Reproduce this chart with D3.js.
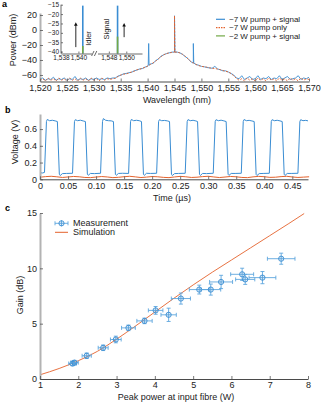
<!DOCTYPE html>
<html lang="en">
<head>
<meta charset="UTF-8">
<title>Parametric amplifier measurements</title>
<style>
  body { margin: 0; background: #fff; }
  svg { display: block; font-family: "Liberation Sans", Arial, sans-serif; }
  .tick text { font-size: 9px; fill: #222; }
  .inset .tick text { font-size: 6.5px; }
  .axis-title { font-size: 9px; fill: #222; }
  .legend text { font-size: 9px; fill: #222; }
  .legend.small text { font-size: 8px; }
  .panel-label { font-size: 9px; font-weight: bold; fill: #000; }
</style>
</head>
<body>
<script src="https://cdn.jsdelivr.net/npm/d3@7"></script>
<script>
// ---------- panel a: output spectra (dBm on a 0.5 nm grid from 1,520 nm) ----------
const wavelengths = d3.range(1520, 1570.01, 0.5);

const pumpSignalDbm = [
  -66, -64, -67, -65, -66, -63, -67, -65, -66, -64, -67, -65, -66, -62,
  -67, -65, -66, -64, -67, -65, -66, -64, -66, -65, -66, -64, -65, -64,
  -64, -61.5, -60.5, -58.5, -58, -57, -56.5, -54.5, -53.5, -52, -51.5, -49.5,
  -48.5, -45.5, -44.5, -41, -38.5, -35, -33, -31.5, -30.5, -29.5, -29.5, -29.5,
  -30.5, -32.5, -35.5, -38, -42, -44, -46, -47, -48.5, -49, -50, -50.5,
  -51, -48.5, -52, -53, -54.5, -54.5, -56, -58, -60, -64,
  -65, -61, -66, -64, -62, -66, -65, -61, -66, -64, -65, -62, -66, -64,
  -65, -61, -66, -64, -62, -66, -65, -64, -61, -66, -64, -65, -63
];

const pumpOnlyDbm = [
  -67, -65, -68, -64, -67, -65, -68, -64, -67, -65, -68, -64, -67, -65,
  -68, -64, -67, -65, -68, -64, -67, -65, -68, -64, -67, -65, -66, -65,
  -64.5, -62, -60, -59, -58.5, -57.5, -56, -55, -53, -52.5, -51, -50,
  -48, -46, -44, -41.5, -38.5, -35.5, -33, -31.5, -30.5, -30, -29.5, -29.5,
  -30.5, -32.5, -35, -38.5, -42, -44, -46, -47.5, -48.5, -49, -49.5, -50.5,
  -51, -51.5, -52, -53, -54, -55, -56, -58, -61, -64.5,
  -67, -65, -68, -64, -67, -65, -68, -64, -67, -65, -68, -64, -67, -65,
  -68, -64, -67, -65, -68, -64, -67, -65, -68, -64, -67, -65, -66
];

// narrow lines: idler, pump, signal
const pumpSignalPeaks = [
  { wl: 1540.2, base: -47, peak: -18 },
  { wl: 1545.0, base: -29.5, peak: 19 },
  { wl: 1548.5, base: -44, peak: -18 }
];
const pumpOnlyPeaks = [
  { wl: 1545.0, base: -29.5, peak: 19 }
];

// inset: idler and signal peak powers (dBm)
const insetIdlerWl = 1540.5, insetSignalWl = 1549.0;
const insetHighPump = { idler: -15.5, signal: -15.5 };   // ~7 W pump + signal
const insetLowPump = { idler: -37, signal: -32 };        // ~2 W pump + signal

const legendA = ['~7 W pump + signal', '~7 W pump only', '~2 W pump + signal'];

// ---------- panel b: detected voltage versus time ----------
const pulseTrace = [
  [0.000, 0.080], [0.004, 0.075], [0.008, 0.082], [0.0115, 0.69], [0.013, 0.715], [0.017, 0.700], [0.022, 0.705], [0.027, 0.698], [0.031, 0.690], [0.0345, 0.060], [0.036, 0.045], [0.040, 0.068], [0.047, 0.070],
  [0.058, 0.072], [0.0615, 0.69], [0.063, 0.712], [0.067, 0.700], [0.072, 0.706], [0.077, 0.697], [0.081, 0.690], [0.0845, 0.060], [0.086, 0.048], [0.090, 0.070], [0.097, 0.068],
  [0.108, 0.072], [0.1115, 0.69], [0.113, 0.725], [0.117, 0.705], [0.122, 0.700], [0.127, 0.698], [0.131, 0.690], [0.1345, 0.058], [0.136, 0.048], [0.140, 0.070], [0.147, 0.072],
  [0.158, 0.070], [0.1615, 0.69], [0.163, 0.715], [0.167, 0.700], [0.172, 0.705], [0.177, 0.700], [0.181, 0.690], [0.1845, 0.060], [0.186, 0.047], [0.190, 0.072], [0.197, 0.070],
  [0.208, 0.072], [0.2115, 0.69], [0.213, 0.712], [0.217, 0.700], [0.222, 0.703], [0.227, 0.698], [0.231, 0.690], [0.2345, 0.060], [0.236, 0.045], [0.240, 0.068], [0.247, 0.070],
  [0.259, 0.072], [0.2625, 0.69], [0.264, 0.713], [0.268, 0.700], [0.273, 0.705], [0.278, 0.697], [0.281, 0.690], [0.2845, 0.058], [0.286, 0.046], [0.290, 0.070], [0.297, 0.068],
  [0.309, 0.072], [0.3125, 0.69], [0.314, 0.712], [0.318, 0.700], [0.323, 0.706], [0.328, 0.698], [0.332, 0.690], [0.3355, 0.060], [0.337, 0.047], [0.341, 0.070], [0.348, 0.070],
  [0.359, 0.072], [0.3625, 0.69], [0.364, 0.714], [0.368, 0.700], [0.373, 0.704], [0.378, 0.697], [0.382, 0.690], [0.3855, 0.058], [0.387, 0.045], [0.391, 0.068], [0.398, 0.070],
  [0.409, 0.072], [0.4125, 0.69], [0.414, 0.712], [0.418, 0.700], [0.423, 0.705], [0.428, 0.698], [0.432, 0.690], [0.4355, 0.060], [0.437, 0.046], [0.441, 0.070], [0.448, 0.070],
  [0.460, 0.072], [0.4635, 0.69], [0.465, 0.712], [0.469, 0.700], [0.474, 0.704], [0.478, 0.698]
];

// reference trace sampled every 10 ns
const refTimes = d3.range(0, 0.4805, 0.01);
const refVolts = [
  0.025, 0.032, 0.036, 0.030, 0.022, 0.028, 0.034, 0.030, 0.022, 0.020,
  0.027, 0.033, 0.028, 0.020, 0.024, 0.031, 0.036, 0.029, 0.021, 0.026,
  0.033, 0.030, 0.023, 0.020, 0.028, 0.035, 0.030, 0.022, 0.025, 0.032,
  0.036, 0.028, 0.021, 0.027, 0.034, 0.030, 0.022, 0.020, 0.029, 0.035,
  0.031, 0.023, 0.025, 0.032, 0.036, 0.028, 0.022, 0.026, 0.030
];

const timeTicks = [0, 0.05, 0.10, 0.15, 0.20, 0.25, 0.30, 0.35, 0.40, 0.45];
const voltTicks = [0, 0.2, 0.4, 0.6];

// ---------- panel c: gain versus peak pump power ----------
const measPower = [1.85, 1.90, 2.22, 2.65, 2.98, 3.31, 3.73, 4.02, 4.36, 4.68, 5.16, 5.46, 5.73, 6.28, 6.36, 6.81, 7.30];
const measGain  = [1.40, 1.48, 2.10, 2.82, 3.57, 4.62, 5.25, 6.20, 5.80, 7.27, 8.08, 8.08, 8.77, 9.46, 9.00, 9.16, 10.87];
const powerErr  = [0.10, 0.10, 0.12, 0.13, 0.14, 0.18, 0.20, 0.19, 0.20, 0.25, 0.26, 0.26, 0.30, 0.30, 0.25, 0.35, 0.36];
const gainErr   = [0.20, 0.20, 0.25, 0.25, 0.30, 0.25, 0.25, 0.35, 0.60, 0.50, 0.40, 0.50, 0.60, 0.55, 0.45, 0.55, 0.50];

const simPower = [1, 1.5, 2, 2.5, 3, 3.5, 4, 4.5, 5, 5.5, 6, 6.5, 7, 7.5, 7.9];
const simGain  = [0.38, 0.95, 1.65, 2.5, 3.6, 4.8, 6.05, 7.3, 8.5, 9.65, 10.75, 11.85, 12.95, 14.05, 14.95];

const gainTicks = [0, 5, 10, 15];
const powerTicks = [1, 2, 3, 4, 5, 6, 7, 8];

// ---------- drawing ----------
const BLUE = '#3a8dd3', ORANGE = '#e4622c', GREEN = '#72a846', ERR = '#5ea6de';
const Y_AXIS = '#b3b3b3', X_AXIS = '#4a4a4a';

const svg = d3.select('body').append('svg')
  .attr('width', 326)
  .attr('height', 407);

function styleAxis(g, color, width) {
  g.select('.domain').attr('stroke', color).attr('stroke-width', width);
  g.selectAll('.tick line').attr('stroke', '#555').attr('stroke-width', 0.8);
}

function bottomAxis(x, y0, ticks, fmt, cls) {
  const g = svg.append('g').attr('class', cls || '')
    .attr('transform', `translate(0,${y0})`)
    .call(d3.axisBottom(x).tickValues(ticks).tickFormat(fmt)
      .tickSizeInner(-3).tickSizeOuter(0).tickPadding(3));
  styleAxis(g, X_AXIS, 1);
  return g;
}

function leftAxis(y, x0, ticks, fmt, cls) {
  const g = svg.append('g').attr('class', cls || '')
    .attr('transform', `translate(${x0},0)`)
    .call(d3.axisLeft(y).tickValues(ticks).tickFormat(fmt)
      .tickSizeInner(-3).tickSizeOuter(0).tickPadding(3));
  styleAxis(g, Y_AXIS, 2);
  return g;
}

function yTitle(text, cx, cy) {
  svg.append('text').attr('class', 'axis-title')
    .attr('transform', `translate(${cx},${cy}) rotate(-90)`)
    .attr('text-anchor', 'middle').attr('dy', '0.35em')
    .text(text);
}

function xTitle(text, cx, y) {
  svg.append('text').attr('class', 'axis-title')
    .attr('x', cx).attr('y', y).attr('text-anchor', 'middle')
    .text(text);
}

// panel a
const xA = d3.scaleLinear().domain([1520, 1570]).range([40, 309]);
const yA = d3.scaleLinear().domain([-68.7, 22.7]).range([81.5, 13]);

function spectrumPoints(values, peaks) {
  const pts = wavelengths.map((wl, i) => [wl, values[i]]);
  peaks.forEach(p => {
    pts.push([p.wl - 0.08, p.base], [p.wl, p.peak], [p.wl + 0.08, p.base]);
  });
  return pts.sort((a, b) => a[0] - b[0]);
}

const lineA = d3.line().x(d => xA(d[0])).y(d => yA(d[1]));

svg.append('path')
  .attr('d', lineA(spectrumPoints(pumpSignalDbm, pumpSignalPeaks)))
  .attr('fill', 'none').attr('stroke', BLUE).attr('stroke-width', 0.9);

svg.append('path')
  .attr('d', lineA(spectrumPoints(pumpOnlyDbm, pumpOnlyPeaks)))
  .attr('fill', 'none').attr('stroke', ORANGE).attr('stroke-width', 0.9)
  .attr('stroke-dasharray', '2,1.5');

leftAxis(yA, 40, [-60, -40, -20, 0, 20], d3.format('d'));
bottomAxis(xA, 81.5, d3.range(1520, 1571, 5), d3.format(','));
yTitle('Power (dBm)', 13, 40);
xTitle('Wavelength (nm)', 177, 103);

// legend a (tight rows)
const legA = svg.append('g').attr('class', 'legend small');
[BLUE, ORANGE, GREEN].forEach((c, i) => {
  const ly = 19.3 + i * 8.3;
  legA.append('line').attr('x1', 216).attr('x2', 225).attr('y1', ly).attr('y2', ly)
    .attr('stroke', c).attr('stroke-width', 1.2)
    .attr('stroke-dasharray', i === 1 ? '1.5,1' : null);
  legA.append('text').attr('x', 229).attr('y', ly).attr('dy', '0.35em').text(legendA[i]);
});

// inset with a broken wavelength axis
const xInL = d3.scaleLinear().domain([1538, 1541.5]).range([61, 91.5]);
const xInR = d3.scaleLinear().domain([1546.7, 1551.8]).range([97.5, 142]);
const yIn = d3.scaleLinear().domain([-41, -15]).range([53.5, 4.7]);

const inset = svg.append('g').attr('class', 'inset');

function insetLine(x, level, color) {
  inset.append('line').attr('x1', x).attr('x2', x)
    .attr('y1', yIn(-41)).attr('y2', yIn(level))
    .attr('stroke', color).attr('stroke-width', 1.6);
}
insetLine(xInL(insetIdlerWl), insetHighPump.idler, BLUE);
insetLine(xInR(insetSignalWl), insetHighPump.signal, BLUE);
insetLine(xInL(insetIdlerWl), insetLowPump.idler, GREEN);
insetLine(xInR(insetSignalWl), insetLowPump.signal, GREEN);

const gInY = inset.append('g').attr('transform', `translate(${xInL(1538)},0)`)
  .call(d3.axisLeft(yIn).tickValues([-15, -20, -25, -30, -35, -40]).tickFormat(d3.format('d'))
    .tickSizeInner(-2).tickSizeOuter(0).tickPadding(2));
styleAxis(gInY, '#444', 0.8);
gInY.select('.domain').attr('d', `M0,${yIn(-15)}V${yIn(-41)}`);

const gInL = inset.append('g').attr('transform', `translate(0,${yIn(-41)})`)
  .call(d3.axisBottom(xInL).tickValues([1538, 1540]).tickFormat(d3.format(','))
    .tickSizeInner(-2).tickSizeOuter(0).tickPadding(2));
styleAxis(gInL, '#444', 0.8);
const gInR = inset.append('g').attr('transform', `translate(0,${yIn(-41)})`)
  .call(d3.axisBottom(xInR).tickValues([1548, 1550]).tickFormat(d3.format(','))
    .tickSizeInner(-2).tickSizeOuter(0).tickPadding(2));
styleAxis(gInR, '#444', 0.8);

// break marks between the two axis segments
[92.8, 95.6].forEach(bx => {
  inset.append('line').attr('x1', bx - 1.2).attr('x2', bx + 1.2)
    .attr('y1', yIn(-41) + 2.5).attr('y2', yIn(-41) - 2.5)
    .attr('stroke', '#444').attr('stroke-width', 0.8);
});

// gain arrows
function arrow(x, fromDb, toDb) {
  const y1 = yIn(fromDb), y2 = yIn(toDb);
  inset.append('line').attr('x1', x).attr('x2', x).attr('y1', y1).attr('y2', y2 + 2)
    .attr('stroke', '#111').attr('stroke-width', 0.9);
  inset.append('path')
    .attr('d', `M${x},${y2}L${x - 1.8},${y2 + 3.5}L${x + 1.8},${y2 + 3.5}Z`)
    .attr('fill', '#111');
}
arrow(xInL(1539.7), -37.6, -24.3);
arrow(xInR(1549.75), -32.3, -24.8);

inset.append('text').attr('class', 'axis-title')
  .attr('transform', `translate(${xInL(1541.1)},${yIn(-33)}) rotate(-90)`)
  .attr('text-anchor', 'middle').attr('dy', '0.35em').style('font-size', '7.5px')
  .text('Idler');
inset.append('text').attr('class', 'axis-title')
  .attr('transform', `translate(${xInR(1547.7)},${yIn(-28)}) rotate(-90)`)
  .attr('text-anchor', 'middle').attr('dy', '0.35em').style('font-size', '7.5px')
  .text('Signal');

// panel b
const xB = d3.scaleLinear().domain([0, 0.478]).range([40, 308]);
const yB = d3.scaleLinear().domain([0, 0.78]).range([179.3, 114]);

svg.append('path')
  .attr('d', d3.line().x((d, i) => xB(refTimes[i])).y(d => yB(d))(refVolts))
  .attr('fill', 'none').attr('stroke', ORANGE).attr('stroke-width', 1);

svg.append('path')
  .attr('d', d3.line().x(d => xB(d[0])).y(d => yB(d[1]))(pulseTrace))
  .attr('fill', 'none').attr('stroke', BLUE).attr('stroke-width', 1);

leftAxis(yB, 40, voltTicks, t => t === 0 ? '0' : d3.format('.1f')(t));
bottomAxis(xB, 179.3, timeTicks, t => t === 0 ? '0' : d3.format('.2f')(t));
yTitle('Voltage (V)', 15, 142);
xTitle('Time (µs)', 172, 201);

// panel c
const xC = d3.scaleLinear().domain([1, 8]).range([40, 308]);
const yC = d3.scaleLinear().domain([0, 15]).range([379, 213]);

svg.append('path')
  .attr('d', d3.line().curve(d3.curveMonotoneX)
    .x((d, i) => xC(simPower[i])).y(d => yC(d))(simGain))
  .attr('fill', 'none').attr('stroke', ORANGE).attr('stroke-width', 0.9);

const meas = svg.append('g');
measPower.forEach((p, i) => {
  const cx = xC(p), cy = yC(measGain[i]);
  const xl = xC(p - powerErr[i]), xr = xC(p + powerErr[i]);
  const yt = yC(measGain[i] + gainErr[i]), yb = yC(measGain[i] - gainErr[i]);
  const g = meas.append('g').attr('stroke', ERR).attr('stroke-width', 0.9);
  g.append('line').attr('x1', xl).attr('x2', xr).attr('y1', cy).attr('y2', cy);
  g.append('line').attr('x1', xl).attr('x2', xl).attr('y1', cy - 2).attr('y2', cy + 2);
  g.append('line').attr('x1', xr).attr('x2', xr).attr('y1', cy - 2).attr('y2', cy + 2);
  g.append('line').attr('x1', cx).attr('x2', cx).attr('y1', yt).attr('y2', yb);
  g.append('line').attr('x1', cx - 2).attr('x2', cx + 2).attr('y1', yt).attr('y2', yt);
  g.append('line').attr('x1', cx - 2).attr('x2', cx + 2).attr('y1', yb).attr('y2', yb);
  meas.append('circle').attr('cx', cx).attr('cy', cy).attr('r', 2.6)
    .attr('fill', 'rgba(58,141,211,0.15)').attr('stroke', BLUE).attr('stroke-width', 0.9);
});

leftAxis(yC, 40, gainTicks, d3.format('d'));
bottomAxis(xC, 379, powerTicks, d3.format('d'));
yTitle('Gain (dB)', 20, 295);
xTitle('Peak power at input fibre (W)', 176, 400);

// legend c
const legC = svg.append('g').attr('class', 'legend');
const lm = legC.append('g').attr('stroke', ERR).attr('stroke-width', 0.9);
lm.append('line').attr('x1', 55).attr('x2', 68).attr('y1', 223.3).attr('y2', 223.3);
lm.append('line').attr('x1', 55).attr('x2', 55).attr('y1', 221.3).attr('y2', 225.3);
lm.append('line').attr('x1', 68).attr('x2', 68).attr('y1', 221.3).attr('y2', 225.3);
lm.append('line').attr('x1', 61.5).attr('x2', 61.5).attr('y1', 220.3).attr('y2', 226.3);
legC.append('circle').attr('cx', 61.5).attr('cy', 223.3).attr('r', 2.6)
  .attr('fill', 'rgba(58,141,211,0.15)').attr('stroke', BLUE).attr('stroke-width', 0.9);
legC.append('text').attr('x', 73).attr('y', 223.3).attr('dy', '0.35em').text('Measurement');
legC.append('line').attr('x1', 55).attr('x2', 68).attr('y1', 232.3).attr('y2', 232.3)
  .attr('stroke', ORANGE).attr('stroke-width', 1);
legC.append('text').attr('x', 73).attr('y', 232.3).attr('dy', '0.35em').text('Simulation');

// panel letters
[['a', 2, 7], ['b', 5, 112.5], ['c', 5, 210.5]].forEach(([t, x, y]) => {
  svg.append('text').attr('class', 'panel-label').attr('x', x).attr('y', y).text(t);
});
</script>
</body>
</html>
